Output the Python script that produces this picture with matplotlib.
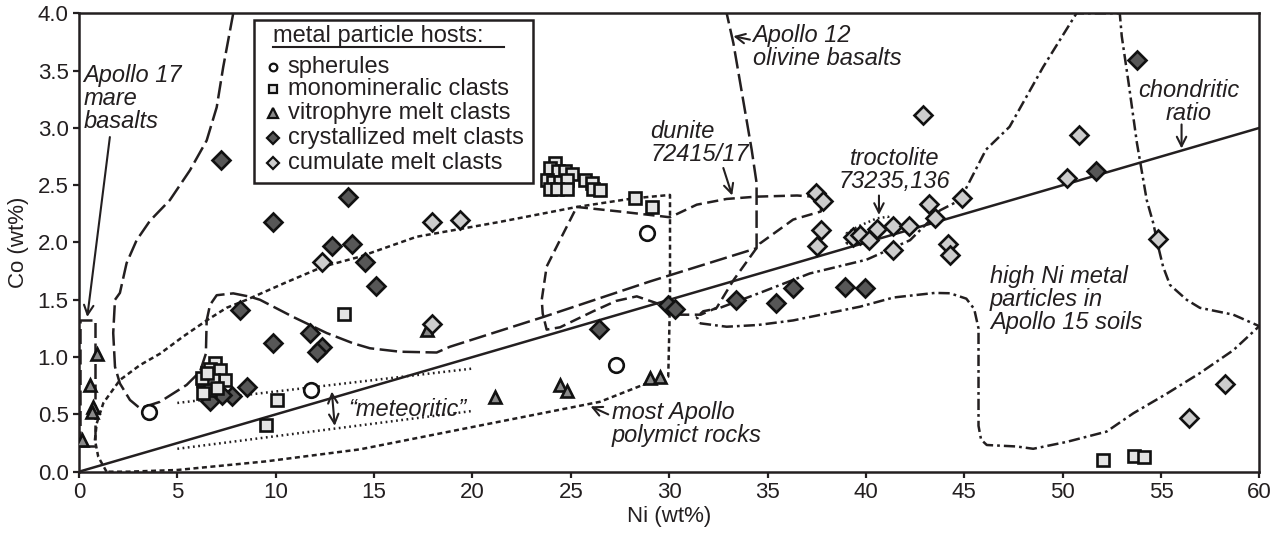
import numpy as np
import matplotlib.pyplot as plt
from matplotlib.patches import Rectangle
from matplotlib.ticker import FormatStrFormatter

plt.rcParams['font.family'] = ['Liberation Sans', 'DejaVu Sans']
plt.rcParams['font.size'] = 16

INK = '#231f20'

# ---- metal particle data (Ni wt%, Co wt%) ----
sph_ni = [3.55, 11.8, 27.3, 28.85]
sph_co = [0.52, 0.71, 0.93, 2.08]

mono_ni = [6.91, 6.66, 7.17, 7.42, 6.32, 6.83, 6.66, 6.32, 7.0, 6.24, 6.49,
           10.05, 9.49, 13.47,
           24.19, 23.94, 24.36, 24.7, 25.04, 23.77, 24.1, 24.44, 24.79, 23.94,
           24.28, 24.79, 25.72, 26.06, 26.14, 26.48, 28.26, 29.1,
           52.03, 53.64, 54.13]
mono_co = [0.946, 0.90, 0.887, 0.80, 0.80, 0.80, 0.713, 0.684, 0.728, 0.815, 0.858,
           0.626, 0.407, 1.38,
           2.69, 2.65, 2.62, 2.62, 2.60, 2.545, 2.53, 2.53, 2.545, 2.47,
           2.47, 2.47, 2.545, 2.52, 2.47, 2.46, 2.386, 2.31,
           0.10, 0.137, 0.13]

vit_ni = [0.14, 0.56, 0.9, 0.73, 0.65, 17.7, 21.14, 24.45, 24.79, 29.02, 29.53]
vit_co = [0.277, 0.757, 1.03, 0.567, 0.524, 1.24, 0.654, 0.757, 0.70, 0.815, 0.83]

cry_ni = [7.22, 9.84, 13.66, 12.84, 13.86, 14.54, 15.1, 26.45, 8.18, 9.84, 11.74,
          12.34, 12.11, 8.56, 7.76, 6.66, 7.25, 29.95, 30.29, 33.39, 35.42, 36.3,
          38.93, 39.95, 53.76, 51.69]
cry_co = [2.72, 2.18, 2.40, 1.97, 1.99, 1.83, 1.62, 1.245, 1.41, 1.12, 1.21,
          1.09, 1.047, 0.742, 0.66, 0.62, 0.67, 1.455, 1.417, 1.50, 1.475, 1.60,
          1.614, 1.60, 3.59, 2.62]

cum_ni = [12.34, 17.93, 19.36, 17.93, 37.46, 37.83, 37.7, 37.53, 42.91, 39.36,
          39.69, 40.17, 40.57, 41.36, 41.39, 42.2, 43.22, 43.5, 44.86, 44.18,
          44.27, 50.84, 50.2, 54.86, 56.42, 58.25]
cum_co = [1.83, 2.18, 2.20, 1.29, 2.43, 2.36, 2.11, 1.97, 3.11, 2.045,
          2.065, 2.02, 2.115, 2.14, 1.935, 2.144, 2.336, 2.217, 2.39, 1.985,
          1.89, 2.94, 2.56, 2.03, 0.47, 0.763]

# ---- reference lines and fields (Ni, Co vertices) ----
chond_ni = [0, 60]
chond_co = [0, 3.0]

met_hi_ni = [5, 20]
met_hi_co = [0.60, 0.90]
met_lo_ni = [5, 20]
met_lo_co = [0.20, 0.53]

a17_ni = [0.05, 0.05, 0.8, 0.8, 0.05]
a17_co = [0.22, 1.32, 1.32, 0.22, 0.22]

a12_ni = [7.84, 7.59, 7.33, 7.0, 6.49, 5.64, 4.62, 3.61, 2.93, 2.42, 2.08, 1.83,
          1.74, 1.83, 2.08, 2.59, 3.1, 4.12, 5.47, 6.15, 6.45, 6.49, 6.66, 7.0,
          7.84, 8.69, 9.2, 10.89, 12.59, 13.94, 14.79, 16.31, 18.18, 18.85, 23.6,
          29.02, 34.44, 34.44, 34.19, 33.76, 33.26, 32.92]
a12_co = [4.0, 3.77, 3.53, 3.18, 2.89, 2.63, 2.37, 2.19, 2.02, 1.82, 1.56, 1.50,
          1.21, 0.916, 0.77, 0.626, 0.553, 0.61, 0.757, 0.873, 1.03, 1.32, 1.455, 1.54,
          1.556, 1.527, 1.50, 1.35, 1.21, 1.12, 1.077, 1.047, 1.04, 1.09, 1.35,
          1.66, 1.95, 2.52, 2.81, 3.24, 3.74, 4.0]

dun_ni = [25.3, 27.5, 30.04, 31.4, 32.92, 34.44, 36.5, 37.3, 37.75, 37.7, 36.3,
          34.6, 33.26, 32.41, 31.6, 30.6, 29.9, 29.37, 28.35, 27.3, 26.14, 24.45,
          23.77, 23.57, 23.52, 23.77, 24.62, 25.3]
dun_co = [2.31, 2.27, 2.22, 2.33, 2.38, 2.40, 2.41, 2.40, 2.34, 2.27, 2.20,
          1.99, 1.67, 1.43, 1.37, 1.37, 1.40, 1.47, 1.53, 1.49, 1.40, 1.26,
          1.24, 1.38, 1.50, 1.79, 2.08, 2.31]

poly_ni = [1.4, 0.98, 0.81, 0.9, 1.24, 2.08, 3.1, 4.12, 5.3, 6.49, 7.5, 8.52,
           10.5, 12.42, 14.28, 17.16, 21.4, 25.3, 28.17, 30.04, 30.04, 29.95,
           28.85, 26.48, 20.0, 14.28, 9.5, 5.0, 2.5, 1.4]
poly_co = [0.0, 0.13, 0.277, 0.42, 0.60, 0.80, 0.93, 1.03, 1.18, 1.32, 1.43, 1.50,
           1.65, 1.79, 1.876, 2.05, 2.18, 2.31, 2.385, 2.415, 1.5, 0.83,
           0.77, 0.61, 0.39, 0.195, 0.09, 0.015, 0.0, 0.0]

troc_ni = [39.02, 39.02, 39.6, 40.54, 41.13, 41.2, 40.88, 39.86, 39.3, 39.02]
troc_co = [1.99, 2.08, 2.14, 2.21, 2.225, 2.18, 2.11, 2.02, 1.98, 1.99]

a15_ni = [31.56, 32.92, 34.5, 36.3, 38.0, 39.7, 41.4, 43.5, 44.27, 45.1, 45.5,
          45.72, 45.72, 45.85, 46.14, 47.66, 48.5, 50.2, 52.23, 53.59, 55.28,
          56.97, 58.67, 59.99, 58.67, 56.97, 56.3, 55.45, 55.1, 54.86, 54.6,
          54.27, 53.77, 53.35, 53.0, 52.9, 50.7, 49.0, 47.3, 46.1, 44.78, 43.76,
          42.24, 40.03, 37.15, 34.6, 32.58, 31.73, 31.4, 31.56]
a15_co = [1.295, 1.265, 1.28, 1.32, 1.38, 1.44, 1.52, 1.56, 1.557, 1.51, 1.42,
          1.25, 0.40, 0.28, 0.233, 0.22, 0.20, 0.26, 0.35, 0.51, 0.68,
          0.86, 1.06, 1.27, 1.37, 1.43, 1.50, 1.63, 1.79, 1.96, 2.17,
          2.37, 2.87, 3.39, 3.80, 4.0, 4.0, 3.53, 3.01, 2.81, 2.37, 2.28,
          2.02, 1.85, 1.73, 1.56, 1.43, 1.40, 1.35, 1.295]

fig = plt.figure(figsize=(12.78, 5.42), dpi=100)
ax = fig.add_axes([0.0618, 0.1297, 0.9237, 0.8458])

lw = 1.8
ax.plot(chond_ni, chond_co, color=INK, lw=lw, zorder=2)
ax.plot(met_hi_ni, met_hi_co, color=INK, lw=lw, ls=(0, (0.7, 1.4)), zorder=2)
ax.plot(met_lo_ni, met_lo_co, color=INK, lw=lw, ls=(0, (0.7, 1.4)), zorder=2)
ax.plot(a17_ni, a17_co, color=INK, lw=lw, ls=(0, (6, 2.2)), zorder=2)
ax.plot(a12_ni, a12_co, color=INK, lw=lw, ls=(0, (7, 2.2)), zorder=2)
ax.plot(dun_ni, dun_co, color=INK, lw=lw, ls=(0, (4.5, 2.2)), zorder=2)
ax.plot(poly_ni, poly_co, color=INK, lw=lw, ls=(0, (2.0, 1.4)), zorder=2)
ax.plot(troc_ni, troc_co, color=INK, lw=lw, ls=(0, (0.7, 1.3)), zorder=2)
ax.plot(a15_ni, a15_co, color=INK, lw=lw, ls=(0, (4.5, 1.6, 1.1, 1.6)), zorder=2)

mk = dict(ls='none', mec='#111111', mew=1.9, zorder=3)
ax.plot(vit_ni, vit_co, marker='^', ms=9, mfc='#8a8a8a', **mk)
ax.plot(cry_ni, cry_co, marker='D', ms=8.8, mfc='#575757', **mk)
ax.plot(cum_ni, cum_co, marker='D', ms=8.8, mfc='#cdcdcd', **mk)
ax.plot(mono_ni, mono_co, marker='s', ms=9, mfc='#e4e4e4', **mk)
ax.plot(sph_ni, sph_co, marker='o', ms=10.5, mfc='white', **mk)

# labels
lab = dict(fontsize=17, style='italic', color=INK, va='center', linespacing=1.0, zorder=4)
ax.text(0.22, 3.26, 'Apollo 17\nmare\nbasalts', ha='left', **lab)
ax.text(34.24, 3.71, 'Apollo 12\nolivine basalts', ha='left', **lab)
ax.text(29.05, 2.865, 'dunite\n72415/17', ha='left', **lab)
ax.text(41.45, 2.635, 'troctolite\n73235,136', ha='center', multialignment='center', **lab)
ax.text(56.42, 3.23, 'chondritic\nratio', ha='center', multialignment='center', **lab)
ax.text(46.3, 1.50, 'high Ni metal\nparticles in\nApollo 15 soils', ha='left', **lab)
ax.text(27.07, 0.415, 'most Apollo\npolymict rocks', ha='left', **lab)
ax.text(13.7, 0.54, '\u201cmeteoritic\u201d', ha='left', **lab)

arr = dict(arrowstyle='->', color=INK, lw=1.5, shrinkA=0, shrinkB=0, mutation_scale=17)
ax.annotate('', xy=(0.42, 1.35), xytext=(1.57, 2.92), arrowprops=arr)
ax.annotate('', xy=(33.26, 3.80), xytext=(34.1, 3.77), arrowprops=arr)
ax.annotate('', xy=(33.2, 2.41), xytext=(32.75, 2.65), arrowprops=arr)
ax.annotate('', xy=(40.66, 2.24), xytext=(40.66, 2.41), arrowprops=arr)
ax.annotate('', xy=(56.04, 2.82), xytext=(56.04, 3.03), arrowprops=arr)
ax.annotate('', xy=(26.0, 0.57), xytext=(26.9, 0.50), arrowprops=arr)
ax.annotate('', xy=(13.0, 0.40), xytext=(12.85, 0.70),
            arrowprops=dict(arr, arrowstyle='<->'))

# legend box
ax.add_patch(Rectangle((8.91, 2.52), 14.18, 1.42, facecolor='white',
                       edgecolor=INK, lw=1.8, zorder=10))
title = ax.text(9.85, 3.80, 'metal particle hosts:', fontsize=17, color=INK,
                va='center', ha='left', zorder=11)
leg_labels = ['spherules', 'monomineralic clasts', 'vitrophyre melt clasts',
              'crystallized melt clasts', 'cumulate melt clasts']
leg_style = [('o', 'white', 5.5), ('s', '#e4e4e4', 6), ('^', '#8a8a8a', 7),
             ('D', '#575757', 5.8), ('D', '#cdcdcd', 5.8)]
leg_y = [3.534, 3.337, 3.128, 2.915, 2.692]
for txt, (m, fc, s), yy in zip(leg_labels, leg_style, leg_y):
    ax.plot([9.88], [yy], marker=m, ms=s, mfc=fc, mec='#111111', mew=1.6,
            ls='none', zorder=11, clip_on=False)
    ax.text(10.61, yy, txt, fontsize=17, color=INK, va='center', ha='left', zorder=11)

fig.canvas.draw()
bb = title.get_window_extent().transformed(ax.transData.inverted())
ax.plot([bb.x0, bb.x1], [3.705, 3.705], color=INK, lw=1.5, zorder=11)

ax.set_xlim(0, 60)
ax.set_ylim(0, 4)
ax.set_xticks(range(0, 61, 5))
ax.set_yticks(np.arange(0, 4.01, 0.5))
ax.yaxis.set_major_formatter(FormatStrFormatter('%.1f'))
ax.tick_params(direction='out', length=4, width=1.6, labelsize=16, colors=INK)
for s in ax.spines.values():
    s.set_linewidth(1.8)
    s.set_color(INK)
ax.set_xlabel('Ni (wt%)', fontsize=16, color=INK, labelpad=2)
ax.set_ylabel('Co (wt%)', fontsize=16, color=INK, labelpad=6)

fig.savefig('out.png', dpi=100)
